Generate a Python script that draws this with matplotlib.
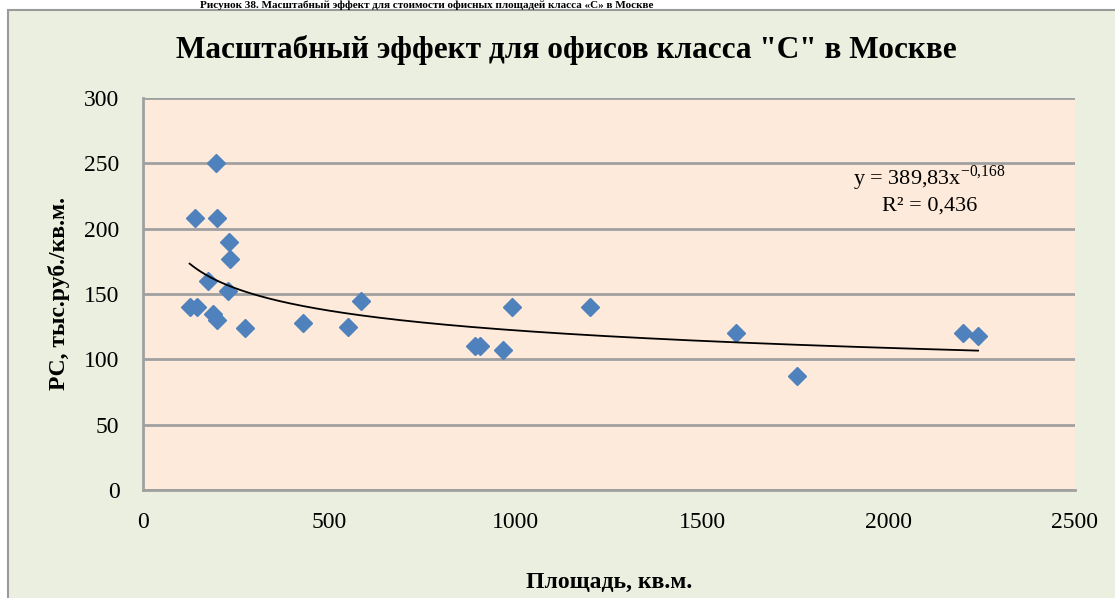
import numpy as np
import matplotlib
matplotlib.use('Agg')
import matplotlib.pyplot as plt
from matplotlib.patches import Rectangle

plt.rcParams['font.family'] = ['Liberation Serif', 'DejaVu Serif']
plt.rcParams['mathtext.fontset'] = 'custom'
plt.rcParams['mathtext.rm'] = 'Liberation Serif'

# данные с графика
area = [125, 145, 140, 195, 198, 230, 233, 175, 228, 188, 198, 274,
        430, 550, 585, 890, 905, 965, 990, 1200, 1590, 1755, 2200, 2240]
price = [140, 140, 208, 250, 208, 190, 177, 160, 152, 135, 130, 124,
         128, 125, 145, 110, 110, 107, 140, 140, 120, 87, 120, 118]

# степенной тренд (как в подписи)
coef_a = 389.83
coef_b = -0.168
eq_text = r'y = 389,83x$^{\mathrm{-0{,}168}}$'
r2_text = 'R² = 0,436'

xticks = [0, 500, 1000, 1500, 2000, 2500]
yticks = [0, 50, 100, 150, 200, 250, 300]

fig = plt.figure(figsize=(11.15, 5.98), dpi=100)
fig.patch.set_facecolor('white')

# рамка диаграммы
frame = Rectangle((8 / 1115, -0.05), 1.1, 1 - 10 / 598 + 0.05,
                  transform=fig.transFigure, facecolor='#EBEFDF',
                  edgecolor='#9A9A9A', lw=1.5, zorder=-5)
fig.patches.append(frame)

fig.text(200 / 1115, 1 - 0.5 / 598,
         'Рисунок 38. Масштабный эффект для стоимости офисных площадей класса «С» в Москве',
         fontsize=8, fontweight='bold', va='top', ha='left', zorder=5)

ax = fig.add_axes([143 / 1115, 1 - 490 / 598, (1075 - 143) / 1115, (490 - 98) / 598])
ax.set_facecolor('#FDEADA')

ax.plot(area, price, linestyle='none', marker='D', ms=9,
        color='#4F81BD', zorder=3)

xs = np.linspace(min(area), max(area), 300)
ax.plot(xs, coef_a * xs ** coef_b, color='black', lw=1.3, zorder=4)

ax.set_xlim(0, 2500)
ax.set_ylim(0, 300)
ax.set_xticks(xticks)
ax.set_yticks(yticks)
ax.tick_params(length=0, labelsize=17)
ax.tick_params(axis='x', pad=16)
ax.tick_params(axis='y', pad=17)
ax.yaxis.grid(True, color='#A0A0A0', lw=2)
ax.set_axisbelow(True)
for s in ['top', 'right']:
    ax.spines[s].set_visible(False)
for s in ['left', 'bottom']:
    ax.spines[s].set_color('#A0A0A0')
    ax.spines[s].set_linewidth(2)

ax.set_xlabel('Площадь, кв.м.', fontsize=17, fontweight='bold', labelpad=28)
ax.set_ylabel('РС, тыс.руб./кв.м.', fontsize=17, fontweight='bold', labelpad=10)

fig.text(0.508, 1 - 50 / 598, 'Масштабный эффект для офисов класса "С" в Москве',
         fontsize=22.5, fontweight='bold', ha='center', va='center')

ax.text(2110, 239, eq_text, fontsize=16, ha='center', va='center')
ax.text(2110, 217, r2_text, fontsize=16, ha='center', va='center')

fig.savefig('out.png', dpi=100)
